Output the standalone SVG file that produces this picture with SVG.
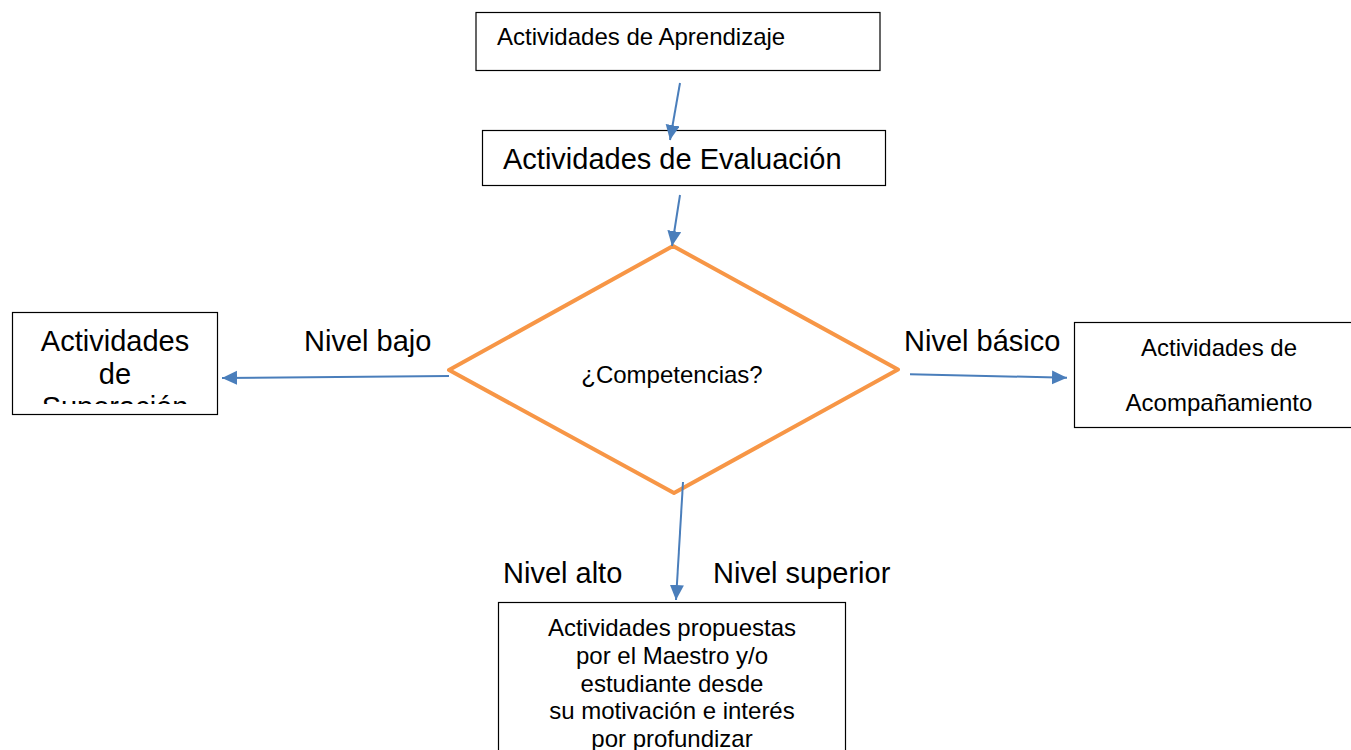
<svg xmlns="http://www.w3.org/2000/svg" width="1351" height="750" viewBox="0 0 1351 750">
<style>
.box{fill:#fff;stroke:#000;stroke-width:1.2}
.t{font-family:"Liberation Sans",Arial,sans-serif;fill:#000}
.s24{font-size:24px}
.s29{font-size:29px}
.c{text-anchor:middle}
.con{stroke:#4A7EBB;stroke-width:2;fill:none;marker-end:url(#ah)}
.dia{fill:#fff;stroke:#F79646;stroke-width:4;stroke-linejoin:round}
</style>
<defs>
<marker id="ah" markerUnits="userSpaceOnUse" markerWidth="16" markerHeight="15" refX="15" refY="7" orient="auto">
<path d="M0,0 L15,7 L0,14 z" fill="#4A7EBB"/>
</marker>
<clipPath id="clipL"><rect x="12" y="312" width="206" height="92"/></clipPath>
</defs>
<rect width="1351" height="750" fill="#fff"/>

<g id="aprendizaje">
<rect class="box" x="476" y="12.5" width="404" height="58"/>
<text class="t s24" x="497" y="45">Actividades de Aprendizaje</text>
</g>

<g id="evaluacion">
<rect class="box" x="482.5" y="130.5" width="403" height="55"/>
<text class="t s29" x="503" y="169">Actividades de Evaluación</text>
</g>

<g id="competencias">
<polygon class="dia" points="673,246 898,369.5 674,493 449,370"/>
<text class="t s24 c" x="672" y="383">¿Competencias?</text>
</g>

<g id="superacion">
<rect class="box" x="12.5" y="312.5" width="205" height="102"/>
<g clip-path="url(#clipL)">
<text class="t s29 c" x="115" y="351">Actividades</text>
<text class="t s29 c" x="115" y="384">de</text>
<text class="t s29 c" x="115" y="417">Superación</text>
</g>
</g>

<g id="acompanamiento">
<rect class="box" x="1074.5" y="322.5" width="290" height="105"/>
<text class="t s24 c" x="1219" y="356">Actividades de</text>
<text class="t s24 c" x="1219" y="411">Acompañamiento</text>
</g>

<g id="propuestas">
<rect class="box" x="498.5" y="602.5" width="347" height="160"/>
<text class="t s24 c" x="672" y="636">Actividades propuestas</text>
<text class="t s24 c" x="672" y="664">por el Maestro y/o</text>
<text class="t s24 c" x="672" y="692">estudiante desde</text>
<text class="t s24 c" x="672" y="719">su motivación e interés</text>
<text class="t s24 c" x="672" y="747">por profundizar</text>
</g>

<g id="connectors">
<line class="con" x1="680" y1="83" x2="670" y2="140"/>
<line class="con" x1="680" y1="195" x2="672" y2="246"/>
<line class="con" x1="449" y1="376" x2="222" y2="378"/>
<line class="con" x1="910" y1="374.3" x2="1067" y2="377.7"/>
<line class="con" x1="683" y1="482" x2="676" y2="600"/>
</g>

<g id="labels">
<text class="t s29" x="304" y="351">Nivel bajo</text>
<text class="t s29" x="904" y="351">Nivel básico</text>
<text class="t s29" x="503" y="583">Nivel alto</text>
<text class="t s29" x="713" y="583">Nivel superior</text>
</g>
</svg>
